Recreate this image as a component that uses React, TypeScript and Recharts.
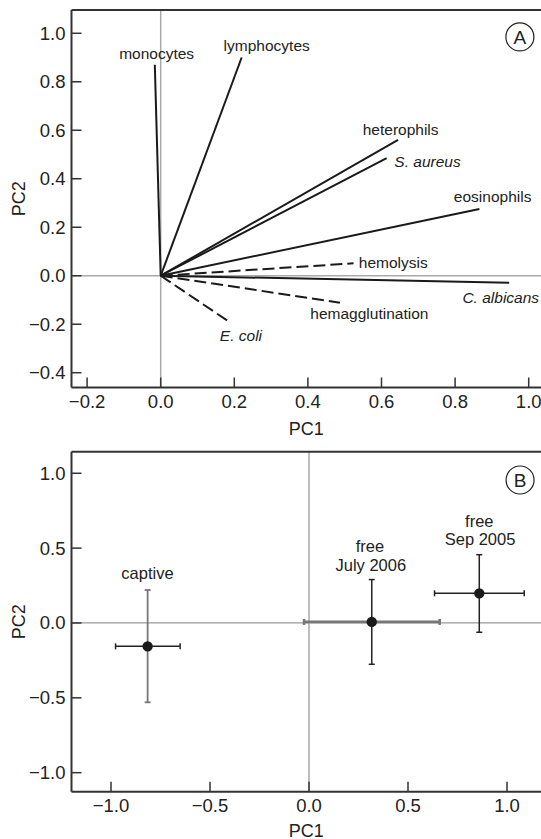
import React from "react";
import {
  ScatterChart,
  Scatter,
  XAxis,
  YAxis,
  ReferenceLine,
  ReferenceDot,
  ErrorBar,
  Label,
} from "recharts";

// ---------- Panel A data (loadings) ----------
const vectorNames = [
  "monocytes",
  "lymphocytes",
  "heterophils",
  "S. aureus",
  "eosinophils",
  "hemolysis",
  "C. albicans",
  "hemagglutination",
  "E. coli",
];
const vectorPC1 = [-0.016, 0.22, 0.645, 0.614, 0.866, 0.524, 0.947, 0.487, 0.182];
const vectorPC2 = [0.87, 0.9, 0.56, 0.485, 0.275, 0.051, -0.029, -0.111, -0.186];
const vectorDashed = [false, false, false, false, false, true, false, true, true];
const vectorItalic = [false, false, false, true, false, false, true, false, true];
const labelPC1 = [-0.011, 0.288, 0.652, 0.725, 0.902, 0.632, 0.924, 0.567, 0.218];
const labelPC2 = [0.917, 0.949, 0.604, 0.472, 0.326, 0.055, -0.089, -0.155, -0.245];

const ticksA_x = [-0.2, 0, 0.2, 0.4, 0.6, 0.8, 1.0];
const ticksA_y = [-0.4, -0.2, 0, 0.2, 0.4, 0.6, 0.8, 1.0];
const domainA_x = [-0.2424, 1.0334];
const domainA_y = [-0.461, 1.096];
const badgeA = { x: 0.976, y: 0.985, text: "A" };

// ---------- Panel B data (group means) ----------
const groupNames = ["captive", "free July 2006", "free Sep 2005"];
const groupPC1 = [-0.815, 0.317, 0.86];
const groupPC2 = [-0.156, 0.007, 0.198];
const groupPC1Low = [-0.977, -0.025, 0.634];
const groupPC1High = [-0.651, 0.66, 1.087];
const groupPC2Low = [-0.53, -0.276, -0.062];
const groupPC2High = [0.22, 0.29, 0.456];
const groupXBarColor = ["#222", "#777", "#222"];
const groupYBarColor = ["#777", "#222", "#222"];
const groupXBarWidth = [1.5, 2.6, 1.5];
const groupYBarWidth = [1.8, 1.5, 1.5];

const labelBText = ["captive", "free", "July 2006", "free", "Sep 2005"];
const labelBPC1 = [-0.816, 0.308, 0.312, 0.86, 0.864];
const labelBPC2 = [0.332, 0.514, 0.387, 0.681, 0.561];

const ticksB = [-1.0, -0.5, 0, 0.5, 1.0];
const domainB_x = [-1.1995, 1.1717];
const domainB_y = [-1.127, 1.144];
const badgeB = { x: 1.066, y: 0.955, text: "B" };

// ---------- helpers ----------
const FONT = "'Liberation Sans', Arial, Helvetica, sans-serif";
const INK = "#222";
const fmt = (v: number) => {
  const s = Math.abs(v) < 1e-9 ? "0.0" : v.toFixed(1);
  return s.replace("-", "\u2212");
};

const XTick = (props: any) => {
  const { x, y, payload, gap } = props;
  return (
    <g>
      <line x1={x} x2={x} y1={y} y2={y - 10} stroke="#333" strokeWidth={1.5} />
      <text
        x={x}
        y={y + gap}
        textAnchor="middle"
        dominantBaseline="central"
        fontSize={18.5}
        fontFamily={FONT}
        fill={INK}
      >
        {fmt(payload.value)}
      </text>
    </g>
  );
};

const YTick = (props: any) => {
  const { x, y, payload } = props;
  return (
    <g>
      <line x1={x} x2={x + 10} y1={y} y2={y} stroke="#333" strokeWidth={1.5} />
      <text
        x={x - 6}
        y={y}
        textAnchor="end"
        dominantBaseline="central"
        fontSize={18.5}
        fontFamily={FONT}
        fill={INK}
      >
        {fmt(payload.value)}
      </text>
    </g>
  );
};

const Badge = (text: string) => (props: any) => {
  const { cx, cy } = props;
  return (
    <g>
      <circle cx={cx} cy={cy} r={14} fill="#fff" stroke={INK} strokeWidth={1.2} />
      <text
        x={cx}
        y={cy + 1}
        textAnchor="middle"
        dominantBaseline="central"
        fontSize={19}
        fontFamily={FONT}
        fill={INK}
      >
        {text}
      </text>
    </g>
  );
};

const NoShape = () => <g />;

const TextShape = (size: number) => (props: any) => {
  const { cx, cy, payload } = props;
  return (
    <text
      x={cx}
      y={cy}
      textAnchor="middle"
      dominantBaseline="central"
      fontSize={size}
      fontFamily={FONT}
      fontStyle={payload.italic ? "italic" : "normal"}
      fill={INK}
    >
      {payload.text}
    </text>
  );
};

const Dot = (props: any) => (
  <circle cx={props.cx} cy={props.cy} r={5.2} fill="#1a1a1a" />
);

// ---------- tables ----------
const vectors = vectorNames.map((n, i) => ({
  name: n,
  dashed: vectorDashed[i],
  points: [
    { x: 0, y: 0 },
    { x: vectorPC1[i], y: vectorPC2[i] },
  ],
}));
const labelsA = vectorNames.map((n, i) => ({
  x: labelPC1[i],
  y: labelPC2[i],
  text: n,
  italic: vectorItalic[i],
}));
const groups = groupNames.map((n, i) => ({
  name: n,
  data: [
    {
      x: groupPC1[i],
      y: groupPC2[i],
      ex: [groupPC1[i] - groupPC1Low[i], groupPC1High[i] - groupPC1[i]],
      ey: [groupPC2[i] - groupPC2Low[i], groupPC2High[i] - groupPC2[i]],
    },
  ],
}));
const labelsB = labelBText.map((t, i) => ({
  x: labelBPC1[i],
  y: labelBPC2[i],
  text: t,
  italic: false,
}));

const axisLine = { stroke: "#333", strokeWidth: 2 };

export default function App() {
  return (
    <div style={{ width: 541, height: 839, background: "#fff", fontFamily: FONT }}>
      <style>{"html,body{margin:0;padding:0;overflow:hidden;background:#fff}"}</style>
      <ScatterChart
        width={541}
        height={440}
        margin={{ top: 10, right: 0, bottom: 0, left: 0 }}
      >
        <XAxis
          type="number"
          dataKey="x"
          domain={domainA_x}
          allowDataOverflow
          ticks={ticksA_x}
          interval={0}
          height={52.5}
          tickSize={0}
          tickMargin={0}
          tickLine={false}
          axisLine={axisLine}
          tick={<XTick gap={14} />}
        >
          <Label value="PC1" position="insideBottom" offset={5.5} fontSize={18} fontFamily={FONT} fill={INK} />
        </XAxis>
        <YAxis
          type="number"
          dataKey="y"
          domain={domainA_y}
          allowDataOverflow
          ticks={ticksA_y}
          interval={0}
          width={71.5}
          tickSize={0}
          tickMargin={0}
          tickLine={false}
          axisLine={axisLine}
          tick={<YTick />}
        >
          <Label
            value="PC2"
            angle={-90}
            position="insideLeft"
            offset={19}
            fontSize={18}
            fontFamily={FONT}
            fill={INK}
            style={{ textAnchor: "middle" }}
          />
        </YAxis>
        <ReferenceLine x={0} stroke="#aaa" strokeWidth={1.5} />
        <ReferenceLine y={0} stroke="#aaa" strokeWidth={1.5} />
        <ReferenceLine y={domainA_y[1]} stroke="#333" strokeWidth={2} />
        {vectors.map((v) => (
          <Scatter
            key={v.name}
            data={v.points}
            fill="#1a1a1a"
            line={{
              stroke: "#1a1a1a",
              strokeWidth: 2,
              strokeDasharray: v.dashed ? "12 5" : undefined,
            }}
            shape={NoShape}
            isAnimationActive={false}
          />
        ))}
        <Scatter data={labelsA} fill={INK} shape={TextShape(15.5)} isAnimationActive={false} />
        <ReferenceDot x={badgeA.x} y={badgeA.y} r={14} shape={Badge(badgeA.text)} />
      </ScatterChart>

      <ScatterChart
        width={541}
        height={399}
        margin={{ top: 11.7, right: 0, bottom: 0, left: 0 }}
      >
        <XAxis
          type="number"
          dataKey="x"
          domain={domainB_x}
          allowDataOverflow
          ticks={ticksB}
          interval={0}
          height={47.3}
          tickSize={0}
          tickMargin={0}
          tickLine={false}
          axisLine={axisLine}
          tick={<XTick gap={13.5} />}
        >
          <Label value="PC1" position="insideBottom" offset={2.5} fontSize={18} fontFamily={FONT} fill={INK} />
        </XAxis>
        <YAxis
          type="number"
          dataKey="y"
          domain={domainB_y}
          allowDataOverflow
          ticks={ticksB}
          interval={0}
          width={71.5}
          tickSize={0}
          tickMargin={0}
          tickLine={false}
          axisLine={axisLine}
          tick={<YTick />}
        >
          <Label
            value="PC2"
            angle={-90}
            position="insideLeft"
            offset={19}
            fontSize={18}
            fontFamily={FONT}
            fill={INK}
            style={{ textAnchor: "middle" }}
          />
        </YAxis>
        <ReferenceLine x={0} stroke="#999" strokeWidth={1.3} />
        <ReferenceLine y={0} stroke="#999" strokeWidth={1.3} />
        <ReferenceLine y={domainB_y[1]} stroke="#333" strokeWidth={2} />
        {groups.map((g, i) => (
          <Scatter
            key={g.name}
            data={g.data}
            fill="#1a1a1a"
            shape={Dot}
            isAnimationActive={false}
          >
            <ErrorBar
              dataKey="ex"
              direction="x"
              width={3}
              stroke={groupXBarColor[i]}
              strokeWidth={groupXBarWidth[i]}
              isAnimationActive={false}
            />
            <ErrorBar
              dataKey="ey"
              direction="y"
              width={3}
              stroke={groupYBarColor[i]}
              strokeWidth={groupYBarWidth[i]}
              isAnimationActive={false}
            />
          </Scatter>
        ))}
        <Scatter data={labelsB} fill={INK} shape={TextShape(16.5)} isAnimationActive={false} />
        <ReferenceDot x={badgeB.x} y={badgeB.y} r={14} shape={Badge(badgeB.text)} />
      </ScatterChart>
    </div>
  );
}
